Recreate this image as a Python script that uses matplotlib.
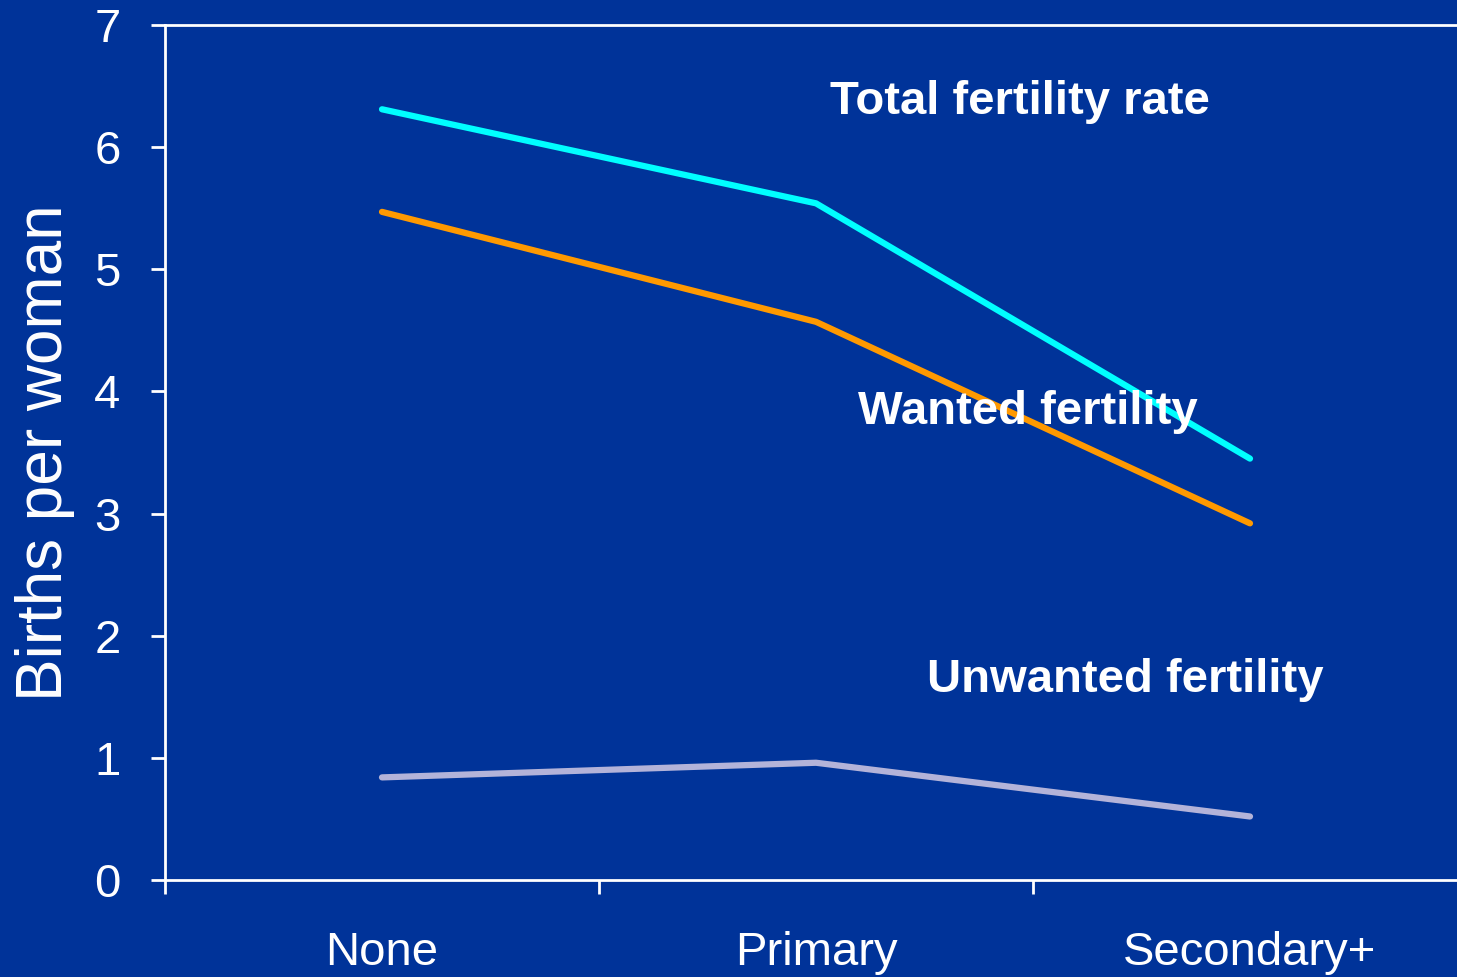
import matplotlib
matplotlib.use('Agg')
import matplotlib.pyplot as plt

# Datos
categories = ['None', 'Primary', 'Secondary+']
total_fertility = [6.31, 5.54, 3.45]
wanted_fertility = [5.47, 4.57, 2.92]
unwanted_fertility = [0.84, 0.96, 0.52]
yticks = [0, 1, 2, 3, 4, 5, 6, 7]

bg = '#003399'
plt.rcParams['font.family'] = ['Liberation Sans', 'DejaVu Sans']

fig = plt.figure(figsize=(14.57, 9.77), dpi=100, facecolor=bg)
# el eje derecho queda fuera de la figura, como en el original
ax = fig.add_axes([165/1457, 97/977, 1302/1457, 855/977])
ax.set_facecolor(bg)

x = range(len(categories))
ax.plot(x, total_fertility, color='#00FFFF', lw=4.5, solid_capstyle='round', solid_joinstyle='round')
ax.plot(x, wanted_fertility, color='#FF9900', lw=4.5, solid_capstyle='round', solid_joinstyle='round')
ax.plot(x, unwanted_fertility, color='#B3B3D9', lw=4.5, solid_capstyle='round', solid_joinstyle='round')

ax.set_xlim(-0.5, 2.5)
ax.set_ylim(0, 7)
ax.set_yticks(yticks)
ax.set_xticks([-0.5, 0.5, 1.5], minor=False)
ax.set_xticklabels([])
ax.set_xticks(list(x), minor=True)
ax.set_xticklabels(categories, minor=True)

for s in ax.spines.values():
    s.set_color('white')
    s.set_linewidth(2)

ax.tick_params(axis='y', colors='white', labelsize=34, length=10, width=2, pad=22)
ax.tick_params(axis='x', which='major', colors='white', length=10, width=2)
ax.tick_params(axis='x', which='minor', colors='white', labelsize=34, length=0, pad=37)

ax.set_ylabel('Births per woman', color='white', fontsize=46, labelpad=14)

ax.text(1.032, 6.37, 'Total fertility rate', color='white', fontsize=34,
        fontweight='bold', va='center', ha='left')
ax.text(1.097, 3.83, 'Wanted fertility', color='white', fontsize=34,
        fontweight='bold', va='center', ha='left')
ax.text(1.256, 1.64, 'Unwanted fertility', color='white', fontsize=34,
        fontweight='bold', va='center', ha='left')

fig.savefig('out.png', dpi=100, facecolor=bg)
